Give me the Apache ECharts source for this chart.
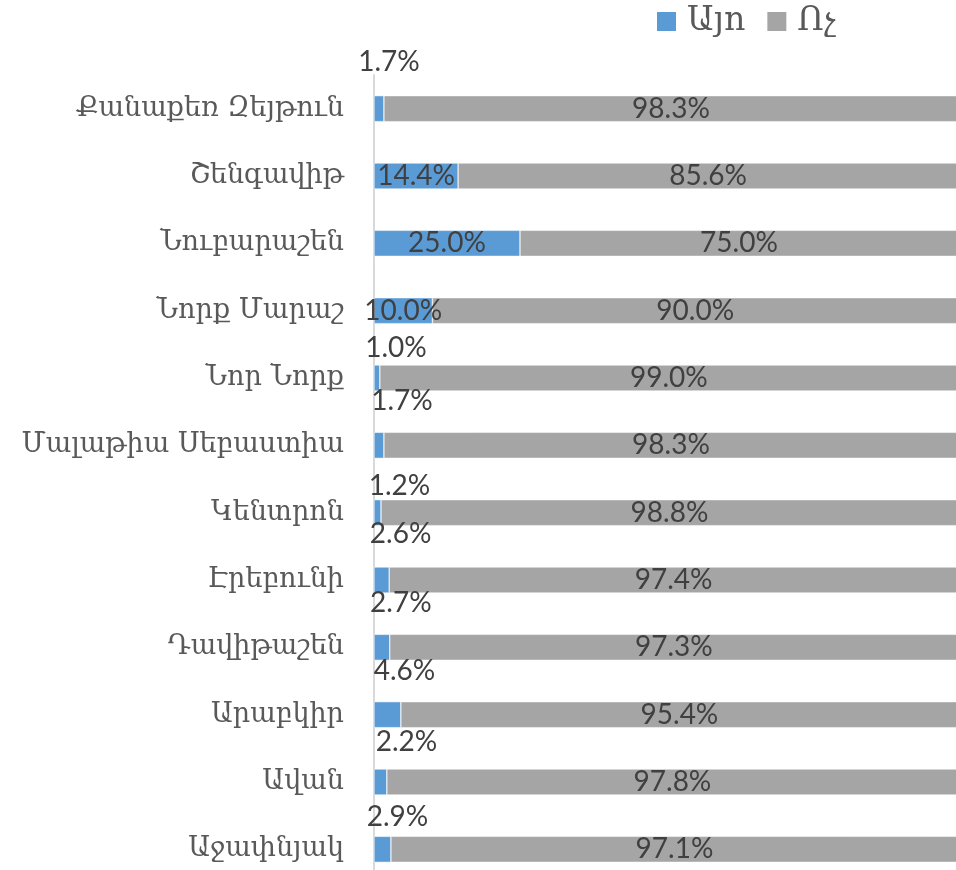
<!DOCTYPE html>
<html>
<head>
<meta charset="utf-8">
<script src="https://cdn.jsdelivr.net/npm/echarts@6/dist/echarts.min.js"></script>
<style>
  html, body { margin: 0; padding: 0; background: #fff; }
  #chart { width: 956px; height: 870px; }
</style>
</head>
<body>
<div id="chart"></div>
<script>
// categories, top to bottom
const districts = [
  "Քանաքեռ Զեյթուն", "Շենգավիթ", "Նուբարաշեն", "Նորք Մարաշ", "Նոր Նորք",
  "Մալաթիա Սեբաստիա", "Կենտրոն", "Էրեբունի", "Դավիթաշեն", "Արաբկիր", "Ավան", "Աջափնյակ"
];
const yesValues = [1.7, 14.4, 25.0, 10.0, 1.0, 1.7, 1.2, 2.6, 2.7, 4.6, 2.2, 2.9];
const noValues = [98.3, 85.6, 75.0, 90.0, 99.0, 98.3, 98.8, 97.4, 97.3, 95.4, 97.8, 97.1];
const seriesNames = ["Այո", "Ոչ"];

// where the small "yes" labels were moved to (pixel offsets from bar centre)
const yesLabelOffsets = [
  [10, -47], null, null, null, [19, -30], [23, -44],
  [22, -27], [19, -46], [19, -44], [17, -44], [26, -40], [15, -32]
];

const labelFont = "Lato, 'DejaVu Sans', sans-serif";
const catFont = "'DejaVu Serif', serif";

let chart = echarts.init(document.getElementById("chart"));
chart.setOption({
  animation: false,
  color: ["#5B9BD5", "#A5A5A5"],
  legend: {
    data: seriesNames,
    left: 650,
    top: 0,
    itemWidth: 21,
    itemHeight: 21,
    itemGap: 20,
    icon: "rect",
    textStyle: { color: "#595959", fontSize: 33, fontFamily: catFont, padding: [0, 0, 0, 5] }
  },
  grid: { left: 374, top: 75, width: 584, height: 808, outerBoundsMode: "none" },
  xAxis: {
    type: "value",
    min: 0,
    max: 100,
    show: false
  },
  yAxis: {
    type: "category",
    data: districts,
    inverse: true,
    axisLine: { lineStyle: { color: "#D9D9D9", width: 2 } },
    axisTick: { show: false },
    axisLabel: { color: "#595959", fontSize: 27, fontFamily: catFont, margin: 30 }
  },
  series: [
    {
      name: seriesNames[0],
      type: "bar",
      stack: "all",
      barWidth: 26,
      itemStyle: { borderColor: "#fff", borderWidth: 0.5 },
      data: yesValues.map((v, i) => {
        const off = yesLabelOffsets[i];
        return off ? { value: v, label: { offset: off } } : v;
      }),
      label: {
        show: true,
        position: "inside",
        color: "#404040",
        fontSize: 28,
        fontFamily: labelFont,
        formatter: p => p.value.toFixed(1) + "%"
      }
    },
    {
      name: seriesNames[1],
      type: "bar",
      stack: "all",
      barWidth: 26,
      itemStyle: { borderColor: "#fff", borderWidth: 0.5 },
      data: noValues,
      label: {
        show: true,
        position: "inside",
        color: "#404040",
        fontSize: 28,
        fontFamily: labelFont,
        formatter: p => p.value.toFixed(1) + "%"
      }
    }
  ]
});
</script>
</body>
</html>
